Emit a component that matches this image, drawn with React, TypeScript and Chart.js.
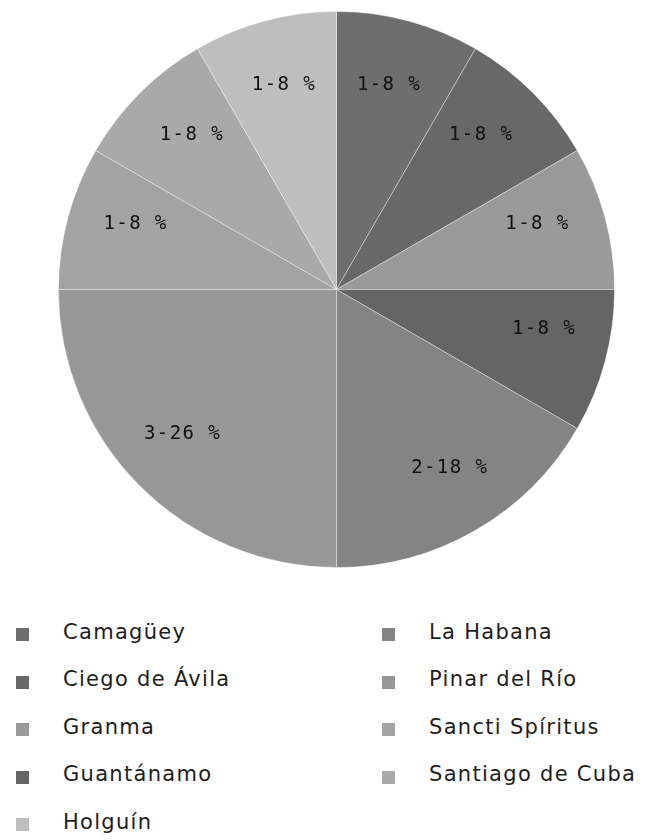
import React, { useEffect, useRef } from "react";
import { Chart, registerables } from "chart.js";

Chart.register(...registerables);

// Slices in drawing order (clockwise from 12 o'clock)
const provinces = [
  "Camagüey",
  "Ciego de Ávila",
  "Granma",
  "Guantánamo",
  "La Habana",
  "Pinar del Río",
  "Sancti Spíritus",
  "Santiago de Cuba",
  "Holguín",
];
const counts = [1, 1, 1, 1, 2, 3, 1, 1, 1];
const percents = [8, 8, 8, 8, 18, 26, 8, 8, 8];
const colors = [
  "#6e6e6e",
  "#686868",
  "#9a9a9a",
  "#656565",
  "#848484",
  "#979797",
  "#a3a3a3",
  "#a9a9a9",
  "#bebebe",
];

const sliceLabelPlugin = {
  id: "sliceLabels",
  afterDatasetsDraw(chart: any) {
    const ctx = chart.ctx;
    const meta = chart.getDatasetMeta(0);
    const totalPct = percents.reduce((a, b) => a + b, 0);
    ctx.save();
    ctx.font = "19px 'DejaVu Sans Mono', monospace";
    ctx.fillStyle = "#111111";
    ctx.textAlign = "center";
    ctx.textBaseline = "middle";
    try {
      (ctx as any).letterSpacing = "1.4px";
    } catch (e) {}
    let cum = 0;
    meta.data.forEach((arc: any, i: number) => {
      const p = arc.getProps(["x", "y", "outerRadius"], true);
      // label angle follows the rounded percentage share
      const midFrac = (cum + percents[i] / 2) / totalPct;
      cum += percents[i];
      const mid = -Math.PI / 2 + midFrac * Math.PI * 2;
      const r = p.outerRadius * 0.76;
      const tx = p.x + Math.cos(mid) * r;
      const ty = p.y + Math.sin(mid) * r;
      ctx.fillText(`${counts[i]}-${percents[i]} %`, tx, ty);
    });
    ctx.restore();
  },
};

export default function App() {
  const canvasRef = useRef<HTMLCanvasElement | null>(null);

  useEffect(() => {
    if (!canvasRef.current) return;
    const chart = new Chart(canvasRef.current, {
      type: "pie",
      data: {
        labels: provinces,
        datasets: [
          {
            data: counts,
            backgroundColor: colors,
            borderColor: "rgba(255,255,255,0.35)",
            borderWidth: 1,
          },
        ],
      },
      options: {
        responsive: false,
        animation: false,
        layout: { padding: { left: 50, right: 24, top: 3, bottom: 20 } },
        plugins: {
          legend: { display: false },
          tooltip: { enabled: false },
        },
      },
      plugins: [sliceLabelPlugin],
    });
    return () => chart.destroy();
  }, []);

  const legendItems = provinces
    .map((name, i) => ({ name, color: colors[i] }))
    .sort((a, b) => a.name.localeCompare(b.name, "es"));

  return (
    <div style={{ width: 631 }}>
      <canvas ref={canvasRef} width={631} height={580} style={{ display: "block", width: 631, height: 580 }} />
      <div
        style={{
          display: "grid",
          gridTemplateColumns: "366px 1fr",
          gridTemplateRows: "repeat(5, 47.5px)",
          gridAutoFlow: "column",
          paddingTop: 20,
          marginLeft: 8,
        }}
      >
        {legendItems.map((it) => (
          <div key={it.name} style={{ display: "flex", alignItems: "center" }}>
            <span
              style={{
                display: "inline-block",
                width: 13,
                height: 13,
                background: it.color,
                marginRight: 34,
                marginTop: 6,
                flex: "none",
              }}
            />
            <span
              style={{
                fontFamily: "'DejaVu Sans', sans-serif",
                fontSize: 21,
                letterSpacing: "1.3px",
                color: "#1e1e1e",
                whiteSpace: "nowrap",
              }}
            >
              {it.name}
            </span>
          </div>
        ))}
      </div>
    </div>
  );
}
